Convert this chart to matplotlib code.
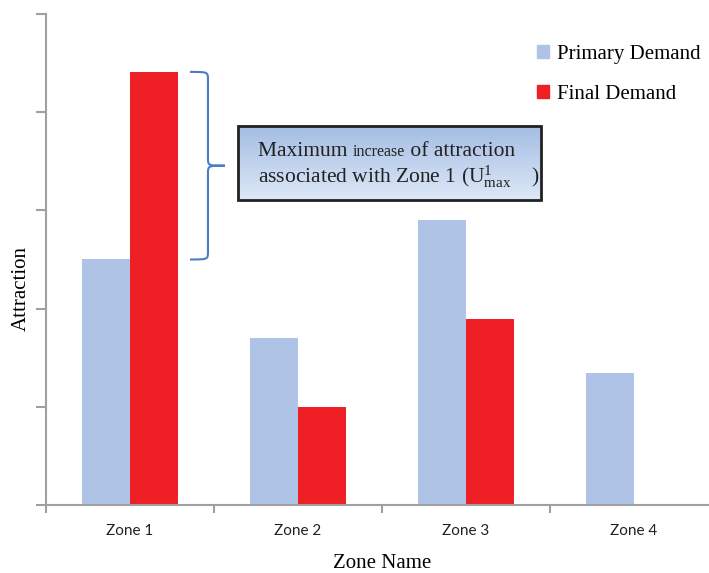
import numpy as np
import matplotlib
matplotlib.use("Agg")
import matplotlib.pyplot as plt
from matplotlib.patches import Patch, Rectangle, PathPatch
from matplotlib.path import Path
from matplotlib.offsetbox import TextArea, HPacker, VPacker, AnnotationBbox

plt.rcParams['mathtext.fontset'] = 'custom'
plt.rcParams['mathtext.rm'] = 'Liberation Serif'
plt.rcParams['mathtext.it'] = 'Liberation Serif:italic'

# data
zones = ["Zone 1", "Zone 2", "Zone 3", "Zone 4"]
primary = [2.5, 1.7, 2.9, 1.34]
final = [4.41, 1.0, 1.89, 0.0]

c_primary = "#aec3e6"
c_final = "#ee2026"
c_axis = "#a0a0a0"
serif = "Liberation Serif"

fig = plt.figure(figsize=(7.09, 5.73), dpi=100)
ax = fig.add_axes([0.0649, 0.1187, 0.9478, 0.8569])

x = np.arange(len(zones))
w = 0.2857
ax.bar(x - w / 2, primary, w, color=c_primary, label="Primary Demand", zorder=2)
ax.bar(x + w / 2, final, w, color=c_final, label="Final Demand", zorder=2)

ax.set_xlim(-0.5, len(zones) - 0.5)
ax.set_ylim(0, 5)

# axes styling
for s in ["top", "right"]:
    ax.spines[s].set_visible(False)
for s in ["left", "bottom"]:
    ax.spines[s].set_color(c_axis)
    ax.spines[s].set_linewidth(1.5)
ax.set_yticks(np.arange(0, 6))
ax.set_yticklabels([])
ax.tick_params(axis="y", direction="out", length=7, width=1.5, color=c_axis)
ax.set_xticks(np.arange(-0.5, len(zones)), minor=False)
ax.set_xticklabels([])
ax.tick_params(axis="x", which="major", direction="out", length=6, width=1.5, color=c_axis)
ax.set_xticks(x, minor=True)
ax.set_xticklabels(zones, minor=True, fontfamily="Lato", fontsize=11, color="#222222")
ax.tick_params(axis="x", which="minor", length=0, pad=14)

ax.set_xlabel("Zone Name", fontfamily=serif, fontsize=15, labelpad=11)
ax.set_ylabel("Attraction", fontfamily=serif, fontsize=15)
ax.yaxis.set_label_coords(-0.022, 0.44)

# legend
handles = [Patch(color=c_primary), Patch(color=c_final)]
ax.legend(handles, ["Primary Demand", "Final Demand"], loc="upper left",
          bbox_to_anchor=(0.702, 0.975), frameon=False,
          prop={"family": serif, "size": 15}, handlelength=0.6, handleheight=0.6,
          handletextpad=0.4, labelspacing=1.0)

# curly brace between primary and final of zone 1
yb, yt = primary[0], final[0]
ym = (yb + yt) / 2
x0, x1, xt = 0.357, 0.464, 0.565
d = 0.08
verts = [(x0, yt), (x1, yt), (x1, yt), (x1, yt - d),
         (x1, ym + d), (x1, ym), (x1, ym), (xt, ym),
         (x1, ym), (x1, ym), (x1, ym - d),
         (x1, yb + d), (x1, yb), (x1, yb), (x0, yb)]
codes = [Path.MOVETO, Path.CURVE4, Path.CURVE4, Path.CURVE4,
         Path.LINETO, Path.CURVE4, Path.CURVE4, Path.CURVE4,
         Path.CURVE4, Path.CURVE4, Path.CURVE4,
         Path.LINETO, Path.CURVE4, Path.CURVE4, Path.CURVE4]
ax.add_patch(PathPatch(Path(verts, codes), facecolor="none", edgecolor="#4a7ec2",
                       lw=1.5, zorder=3))

# gradient box
bx0, bx1, by0, by1 = 0.643, 2.446, 3.106, 3.86
grad = np.linspace(0, 1, 100).reshape(-1, 1)
top = np.array([0.64, 0.74, 0.89])
bot = np.array([0.87, 0.91, 0.97])
img = top + (bot - top) * grad[:, :, None]
ax.imshow(img, extent=[bx0, bx1, by0, by1], aspect="auto", origin="upper", zorder=4)
ax.add_patch(Rectangle((bx0, by0), bx1 - bx0, by1 - by0, facecolor="none",
                       edgecolor="#222222", lw=2, zorder=5))
ax.set_xlim(-0.5, len(zones) - 0.5)
ax.set_ylim(0, 5)

big = dict(family=serif, size=15.5, color="#222222")
small = dict(family=serif, size=11.5, color="#222222")
line1 = HPacker(children=[TextArea("Maximum ", textprops=big),
                          TextArea("increase", textprops=small),
                          TextArea(" of attraction", textprops=big)],
                align="baseline", pad=0, sep=0)
line2 = TextArea(r"associated with Zone 1 (U$^{1}_{\mathrm{max}}$    )", textprops=big)
txt = VPacker(children=[line1, line2], align="left", pad=0, sep=2)
ab = AnnotationBbox(txt, (bx0 + 0.12, (by0 + by1) / 2 - 0.03), xycoords="data",
                    box_alignment=(0, 0.5), frameon=False, zorder=6)
ax.add_artist(ab)

fig.savefig("out.png", dpi=100)
